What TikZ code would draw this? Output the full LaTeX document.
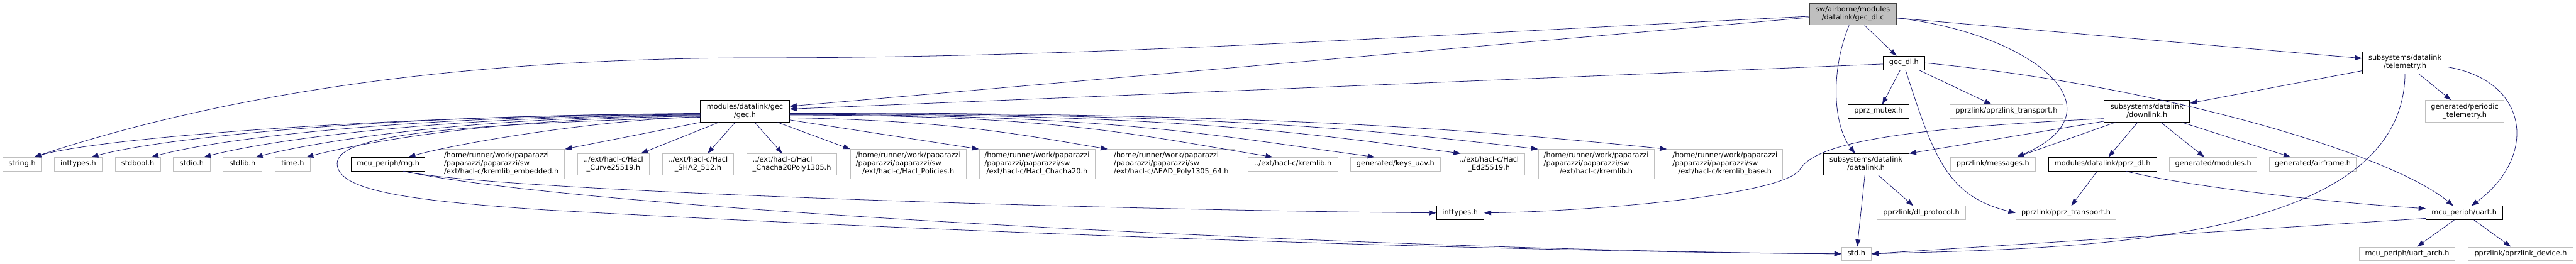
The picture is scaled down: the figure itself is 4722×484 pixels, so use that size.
\documentclass[tikz,border=0pt]{standalone}
\usepackage{fontspec}
\setmainfont{DejaVu Sans}
\usepackage{tikz}
\usetikzlibrary{arrows.meta}
\definecolor{edgeblue}{HTML}{191970}
\definecolor{nodegrey}{HTML}{BFBFBF}
\definecolor{maindraw}{HTML}{404040}
% doxygen style labels: left aligned lines, last line centred
\newcommand{\lab}[1]{\begin{tabular}{@{}c@{}}#1\end{tabular}}
\newcommand{\labb}[2]{\begin{tabular}{@{}l@{}}#1\\\multicolumn{1}{@{}c@{}}{#2}\end{tabular}}
\newcommand{\labbb}[3]{\begin{tabular}{@{}l@{}}#1\\#2\\\multicolumn{1}{@{}c@{}}{#3}\end{tabular}}

\begin{document}
\begin{tikzpicture}[x=1pt, y=-1pt,
	inc/.style={draw=black, fill=white, line width=1pt, inner sep=0pt, minimum height=25pt, font=\fontsize{13}{15}\selectfont},
	sys/.style={inc, draw=nodegrey},
	mainfile/.style={inc, draw=maindraw, fill=nodegrey},
	dep/.style={draw=edgeblue, line width=0.9pt, -{Triangle[length=13pt, width=9pt]}}]
		\useasboundingbox (0,0) rectangle (4722,484);
		
		% top rows
		\node[mainfile, minimum width=159, minimum height=40] (dlc) at (3396.5,26) {\labb{sw/airborne/modules}{/datalink/gec\_dl.c}};
		\node[inc, minimum width=76] (gecdl) at (3490,115.5) {\lab{gec\_dl.h}};
		\node[inc, minimum width=157, minimum height=40] (telemetry) at (4408.5,115) {\labb{subsystems/datalink}{/telemetry.h}};
		\node[inc, minimum width=163, minimum height=40] (gec) at (1365.5,204) {\labb{modules/datalink/gec}{/gec.h}};
		\node[inc, minimum width=111] (mutex) at (3443.5,204.5) {\lab{pprz\_mutex.h}};
		\node[sys, minimum width=208] (plinktr) at (3678,204.5) {\lab{pprzlink/pprzlink\_transport.h}};
		\node[inc, minimum width=157, minimum height=40] (downlink) at (3935.5,204) {\labb{subsystems/datalink}{/downlink.h}};
		\node[sys, minimum width=144, minimum height=40] (periodic) at (4518,204) {\labb{generated/periodic}{\_telemetry.h}};
		
		% headers row
		\node[sys, minimum width=71] (string) at (40.5,301) {\lab{string.h}};
		\node[sys, minimum width=87] (inttypesA) at (143.5,301) {\lab{inttypes.h}};
		\node[sys, minimum width=83] (stdbool) at (252.5,301) {\lab{stdbool.h}};
		\node[sys, minimum width=67] (stdio) at (351.5,301) {\lab{stdio.h}};
		\node[sys, minimum width=71] (stdlib) at (444.5,301) {\lab{stdlib.h}};
		\node[sys, minimum width=65] (timeh) at (536.5,301) {\lab{time.h}};
		\node[inc, minimum width=135] (rng) at (711.5,301) {\lab{mcu\_periph/rng.h}};
		\node[sys, minimum width=232, minimum height=54] (kremlibemb) at (919,301) {\labbb{/home/runner/work/paparazzi}{/paparazzi/paparazzi/sw}{/ext/hacl-c/kremlib\_embedded.h}};
		\node[sys, minimum width=131, minimum height=39] (curve) at (1124.5,301.5) {\labb{../ext/hacl-c/Hacl}{\_Curve25519.h}};
		\node[sys, minimum width=131, minimum height=39] (sha) at (1279.5,301.5) {\labb{../ext/hacl-c/Hacl}{\_SHA2\_512.h}};
		\node[sys, minimum width=165, minimum height=39] (chachapoly) at (1451.5,301.5) {\labb{../ext/hacl-c/Hacl}{\_Chacha20Poly1305.h}};
		\node[sys, minimum width=212, minimum height=54] (policies) at (1665,301) {\labbb{/home/runner/work/paparazzi}{/paparazzi/paparazzi/sw}{/ext/hacl-c/Hacl\_Policies.h}};
		\node[sys, minimum width=212, minimum height=54] (chacha) at (1901,301) {\labbb{/home/runner/work/paparazzi}{/paparazzi/paparazzi/sw}{/ext/hacl-c/Hacl\_Chacha20.h}};
		\node[sys, minimum width=232, minimum height=54] (aead) at (2147,301) {\labbb{/home/runner/work/paparazzi}{/paparazzi/paparazzi/sw}{/ext/hacl-c/AEAD\_Poly1305\_64.h}};
		\node[sys, minimum width=164] (kremlibrel) at (2370,301) {\lab{../ext/hacl-c/kremlib.h}};
		\node[sys, minimum width=164] (keys) at (2558,301) {\lab{generated/keys\_uav.h}};
		\node[sys, minimum width=131, minimum height=39] (ed) at (2729.5,301.5) {\labb{../ext/hacl-c/Hacl}{\_Ed25519.h}};
		\node[sys, minimum width=212, minimum height=54] (kremlib) at (2926,301) {\labbb{/home/runner/work/paparazzi}{/paparazzi/paparazzi/sw}{/ext/hacl-c/kremlib.h}};
		\node[sys, minimum width=212, minimum height=54] (kremlibbase) at (3162,301) {\labbb{/home/runner/work/paparazzi}{/paparazzi/paparazzi/sw}{/ext/hacl-c/kremlib\_base.h}};
		\node[inc, minimum width=157, minimum height=39] (datalink) at (3420.5,301.5) {\labb{subsystems/datalink}{/datalink.h}};
		\node[sys, minimum width=156] (messages) at (3653,301) {\lab{pprzlink/messages.h}};
		\node[inc, minimum width=198] (pprzdl) at (3854,301) {\lab{modules/datalink/pprz\_dl.h}};
		\node[sys, minimum width=160] (modules) at (4057,301) {\lab{generated/modules.h}};
		\node[sys, minimum width=159] (airframe) at (4239.5,301) {\lab{generated/airframe.h}};
		
		% bottom rows
		\node[inc, minimum width=87] (inttypesB) at (2676.5,390.5) {\lab{inttypes.h}};
		\node[sys, minimum width=162] (dlprotocol) at (3522,390.5) {\lab{pprzlink/dl\_protocol.h}};
		\node[sys, minimum width=184] (pprztr) at (3787,390.5) {\lab{pprzlink/pprz\_transport.h}};
		\node[inc, minimum width=140] (uart) at (4517,390.5) {\lab{mcu\_periph/uart.h}};
		\node[sys, minimum width=54] (std) at (3403,465.5) {\lab{std.h}};
		\node[sys, minimum width=175] (uartarch) at (4412.5,465.5) {\lab{mcu\_periph/uart\_arch.h}};
		\node[sys, minimum width=193] (device) at (4620.5,465.5) {\lab{pprzlink/pprzlink\_device.h}};
		
		% gec_dl.c
		\draw[dep] ([yshift=-4]dlc.west) .. controls (2600,65) and (2000,106) .. (1400,106) .. controls (900,106) and (450,160) .. ([xshift=22]string.north);
		\draw[dep] ([yshift=-6]dlc.west) -- ([yshift=9]gec.east);
		\draw[dep] (dlc) -- (gecdl);
		\draw[dep] ([xshift=-7]dlc.south) .. controls (3355,130) and (3360,230) .. ([xshift=-20]datalink.north);
		\draw[dep] ([yshift=-7]dlc.east) .. controls (3720,60) and (3900,200) .. ([xshift=44]messages.north);
		\draw[dep] ([yshift=-7]dlc.east) -- ([yshift=8]telemetry.west);
		
		% gec_dl.h
		\draw[dep] ([yshift=-2]gecdl.west) -- ([yshift=4]gec.east);
		\draw[dep] (gecdl) -- (mutex);
		\draw[dep] (gecdl) -- (plinktr);
		\draw[dep] ([xshift=3]gecdl.south) .. controls (3545,290) and (3570,360) .. (pprztr.west);
		\draw[dep] (gecdl.east) .. controls (3950,155) and (4380,280) .. ([xshift=-20]uart.north);
		
		% gec.h, left side
		\draw[dep] ([yshift=-4]gec.west) .. controls (700,212) and (182,253) .. ([xshift=22]string.north);
		\draw[dep] ([yshift=-5]gec.west) .. controls (700,210) and (297,253) .. ([xshift=24]inttypesA.north);
		\draw[dep] ([yshift=-6]gec.west) .. controls (760,211) and (407,253) .. ([xshift=25]stdbool.north);
		\draw[dep] ([yshift=-7]gec.west) .. controls (820,212) and (503,255) .. ([xshift=22]stdio.north);
		\draw[dep] ([yshift=-8]gec.west) .. controls (860,214) and (590,258) .. ([xshift=24]stdlib.north);
		\draw[dep] ([yshift=-9]gec.west) .. controls (920,216) and (680,258) .. ([xshift=25]timeh.north);
		\draw[dep] ([yshift=-10]gec.west) .. controls (1100,220) and (850,260) .. ([xshift=37]rng.north);
		\draw[dep] ([yshift=-11]gec.west) .. controls (850,228) and (618,245) .. (618,300) .. controls (618,350) and (750,368) .. (1000,385) .. controls (1800,430) and (2800,462) .. (std.west);
		
		% gec.h, below
		\draw[dep] (gec.south west) -- (kremlibemb.north east);
		\draw[dep] ([xshift=-48]gec.south) -- (curve);
		\draw[dep] ([xshift=-18]gec.south) -- (sha);
		\draw[dep] ([xshift=18]gec.south) -- (chachapoly);
		\draw[dep] ([xshift=-22]gec.south east) -- (policies.north west);
		
		% gec.h, right side
		\draw[dep] ([yshift=-16]gec.east) -- (chacha.north west);
		\draw[dep] ([yshift=-12]gec.east) .. controls +(300,5) and +(-150,-25) .. (aead.north west);
		\draw[dep] ([yshift=-7]gec.east) .. controls +(500,0) and +(-250,-40) .. ([xshift=-37]kremlibrel.north);
		\draw[dep] ([yshift=-6]gec.east) .. controls +(600,0) and +(-300,-40) .. ([xshift=-38]keys.north);
		\draw[dep] ([yshift=-5]gec.east) .. controls +(700,0) and +(-300,-40) .. ([xshift=-52]ed.north);
		\draw[dep] ([yshift=-4]gec.east) .. controls +(800,0) and +(-300,-35) .. (kremlib.north west);
		\draw[dep] ([yshift=-3]gec.east) .. controls +(900,0) and +(-350,-35) .. (kremlibbase.north west);
		
		% mcu_periph/rng.h
		\draw[dep] ([xshift=28]rng.south) .. controls (900,350) and (2000,385) .. (inttypesB.west);
		\draw[dep] ([xshift=28]rng.south) .. controls (1100,390) and (2600,460) .. (std.west);
		
		% datalink.h
		\draw[dep] (datalink) -- (std);
		\draw[dep] (datalink) -- (dlprotocol);
		
		% downlink.h
		\draw[dep] ([yshift=2]downlink.south west) -- (datalink.north east);
		\draw[dep] ([yshift=7]downlink.south west) .. controls (3500,235) and (3330,260) .. (3300,310) .. controls (3270,360) and (2900,388) .. (inttypesB.east);
		\draw[dep] ([xshift=21]downlink.south west) -- ([xshift=44]messages.north);
		\draw[dep] (downlink) -- (pprzdl);
		\draw[dep] (downlink) -- (modules);
		\draw[dep] (downlink) -- (airframe);
		
		% telemetry.h
		\draw[dep] (telemetry) -- (downlink);
		\draw[dep] (telemetry) -- (periodic);
		\draw[dep] ([yshift=-8]telemetry.east) .. controls (4640,150) and (4650,290) .. ([xshift=13]uart.north);
		\draw[dep] (telemetry.south) .. controls (4405,450) and (3800,455) .. (std.east);
		
		% pprz_dl.h and uart.h
		\draw[dep] ([xshift=43]pprzdl.south) .. controls (4000,340) and (4250,370) .. ([yshift=8]uart.west);
		\draw[dep] (pprzdl) -- (pprztr);
		\draw[dep] ([yshift=-10]uart.west) -- (std.east);
		\draw[dep] (uart) -- (uartarch);
		\draw[dep] (uart) -- (device);
		
	\end{tikzpicture}
\end{document}
